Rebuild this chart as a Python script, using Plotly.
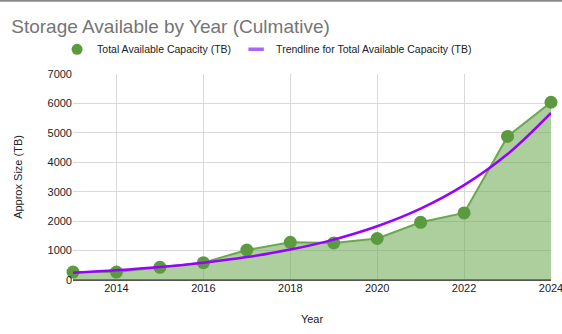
import plotly.graph_objects as go

years = [2013, 2014, 2015, 2016, 2017, 2018, 2019, 2020, 2021, 2022, 2023, 2024]
capacity_tb = [270, 270, 430, 590, 1020, 1280, 1260, 1410, 1960, 2280, 4880, 6040]
trend_tb = [250, 332, 441, 586, 778, 1034, 1373, 1825, 2424, 3222, 4279, 5680]
x_ticks = [2014, 2016, 2018, 2020, 2022, 2024]
y_ticks = [0, 1000, 2000, 3000, 4000, 5000, 6000, 7000]

GREEN_LINE = "#6aa84f"
GREEN_MARK = "#5b9a3f"
PURPLE = "#9900ff"

fig = go.Figure()
fig.add_trace(go.Scatter(
    x=years, y=capacity_tb, mode="lines+markers", fill="tozeroy",
    fillcolor="rgba(106,168,79,0.55)",
    line=dict(color=GREEN_LINE, width=2),
    marker=dict(color=GREEN_MARK, size=13),
    name="Total Available Capacity (TB)", cliponaxis=False, showlegend=False,
))
fig.add_trace(go.Scatter(
    x=years, y=trend_tb, mode="lines", line_shape="spline",
    line=dict(color=PURPLE, width=2.5),
    name="Trendline for Total Available Capacity (TB)", showlegend=False,
))
# legend-only entries
fig.add_trace(go.Scatter(
    x=[None], y=[None], mode="markers",
    marker=dict(color=GREEN_MARK, size=11),
    name="Total Available Capacity (TB)",
))
fig.add_trace(go.Scatter(
    x=[None], y=[None], mode="markers",
    marker=dict(symbol="line-ew-open", size=11, line=dict(color=PURPLE, width=3.5)),
    name="Trendline for Total Available Capacity (TB)",
))

fig.update_layout(
    width=562, height=334,
    margin=dict(l=73, r=11, t=74, b=54),
    paper_bgcolor="white", plot_bgcolor="white",
    font=dict(family="Liberation Sans, Arial, sans-serif", color="#444444", size=11),
    title=dict(text="Storage Available by Year (Culmative)", x=0.02, xanchor="left",
               y=0.92, yanchor="middle",
               font=dict(size=19, color="#757575")),
    legend=dict(orientation="h", x=0.406, xanchor="center", y=1.12, yanchor="middle",
                font=dict(size=10.5, color="#222222"), itemwidth=30,
                bgcolor="rgba(0,0,0,0)"),
    xaxis=dict(range=[2013, 2024], tickvals=x_ticks, showgrid=True,
               gridcolor="#d9d9d9", zeroline=False, showline=False,
               ticks="", tickfont=dict(size=11, color="#222222"),
               ticklabeloverflow="allow", automargin=False,
               title=dict(text="Year", font=dict(size=11, color="#222222"), standoff=22)),
    yaxis=dict(range=[0, 7000], tickvals=y_ticks, showgrid=True,
               gridcolor="#d9d9d9", zeroline=True, zerolinecolor="#555555",
               zerolinewidth=1.5, ticks="", tickfont=dict(size=11, color="#222222"),
               automargin=False,
               title=dict(text="Approx Size (TB)", font=dict(size=11, color="#222222"),
                          standoff=22)),
    showlegend=True,
)
fig.add_shape(type="line", xref="paper", yref="paper", x0=-0.2, x1=1.1,
              y0=1.355, y1=1.355, line=dict(color="#888888", width=2))
fig.write_html("out.html")
